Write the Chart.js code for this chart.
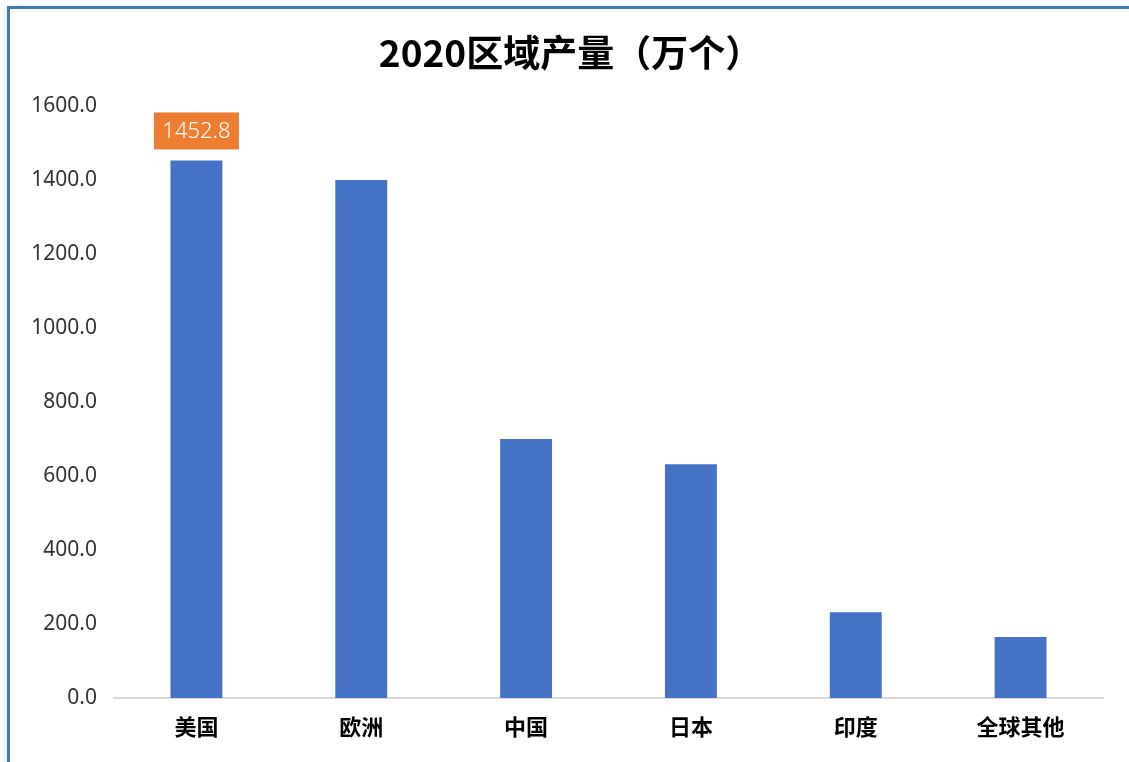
<!DOCTYPE html>
<html>
<head>
<meta charset="utf-8">
<script src="https://cdn.jsdelivr.net/npm/chart.js@4/dist/chart.umd.min.js"></script>
<style>
  html, body { margin: 0; padding: 0; background: #fff; }
  #wrap { position: relative; width: 1129px; height: 762px; overflow: hidden; }
  #chart { position: absolute; left: 0; top: 0; }
  #frame {
    position: absolute; left: 7px; top: 6px; right: -10px; bottom: -10px;
    border-left: 3px solid #3e7cb1; border-top: 3px solid #3e7cb1;
    box-shadow: -3px 0 4px rgba(0,0,0,0.08);
    pointer-events: none;
  }
</style>
</head>
<body>
<div id="wrap">
  <canvas id="chart" width="1129" height="762"></canvas>
  <div id="frame"></div>
</div>
<script>
  // Datos del gráfico
  const titulo = '2020区域产量（万个）';
  const regiones = ['美国', '欧洲', '中国', '日本', '印度', '全球其他'];
  const produccion = [1452.8, 1400, 700, 632, 232, 165];
  const etiquetasMostradas = [0]; // solo la primera barra lleva etiqueta
  const ticksY = [0, 200, 400, 600, 800, 1000, 1200, 1400, 1600];

  const fuente = '"Noto Sans CJK SC", "Noto Sans", sans-serif';
  const fuenteNum = '"Noto Sans", "Noto Sans CJK SC", sans-serif';

  // Título dibujado a mano (el paréntesis de ancho completo descentra el de Chart.js)
  const tituloPlugin = {
    id: 'tituloPlugin',
    afterDraw(chart) {
      const ctx = chart.ctx;
      ctx.save();
      ctx.font = 'bold 37px ' + fuente;
      ctx.fillStyle = '#000';
      ctx.textAlign = 'center';
      ctx.textBaseline = 'middle';
      ctx.fillText(titulo, chart.width / 2 + 6, 53);
      ctx.restore();
    }
  };

  // Plugin para la etiqueta naranja encima de la barra
  const etiquetaDatos = {
    id: 'etiquetaDatos',
    afterDatasetsDraw(chart) {
      const ctx = chart.ctx;
      const meta = chart.getDatasetMeta(0);
      ctx.save();
      ctx.font = '300 22px ' + fuenteNum;
      ctx.textAlign = 'center';
      ctx.textBaseline = 'middle';
      for (const i of etiquetasMostradas) {
        const barra = meta.data[i];
        const texto = produccion[i].toFixed(1);
        const ancho = 85, alto = 37;
        const x = barra.x - ancho / 2;
        const y = barra.y - 11 - alto;
        ctx.fillStyle = '#ed7d31';
        ctx.fillRect(x, y, ancho, alto);
        ctx.fillStyle = '#ffffff';
        ctx.fillText(texto, barra.x, y + alto / 2 + 1);
      }
      ctx.restore();
    }
  };

  const ctx = document.getElementById('chart').getContext('2d');
  new Chart(ctx, {
    type: 'bar',
    data: {
      labels: regiones,
      datasets: [{
        data: produccion,
        backgroundColor: '#4472c4',
        barPercentage: 0.315,
        categoryPercentage: 1
      }]
    },
    options: {
      responsive: false,
      animation: false,
      layout: { padding: { left: 0, right: 26, top: 106, bottom: 0 } },
      plugins: {
        legend: { display: false },
        tooltip: { enabled: false },
        title: { display: false }
      },
      scales: {
        x: {
          grid: { display: false },
          border: { display: true, color: '#d9d9d9', width: 2 },
          ticks: {
            color: '#000',
            padding: 7,
            font: { family: fuente, size: 22, weight: 'bold' }
          },
          afterFit(scale) { scale.height = 64; }
        },
        y: {
          min: 0,
          max: 1600,
          afterBuildTicks(scale) { scale.ticks = ticksY.map(v => ({ value: v })); },
          grid: { display: false },
          border: { display: false },
          ticks: {
            color: '#333',
            padding: 9,
            font: { family: fuenteNum, size: 21, weight: 'normal' },
            callback: v => Number(v).toFixed(1)
          },
          afterFit(scale) { scale.width = 114; }
        }
      }
    },
    plugins: [etiquetaDatos, tituloPlugin]
  });
</script>
</body>
</html>
